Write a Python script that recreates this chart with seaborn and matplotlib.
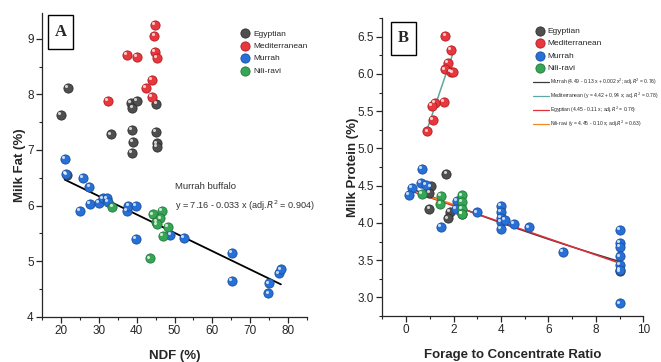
import numpy as np
import pandas as pd
import matplotlib
matplotlib.use("Agg")
import matplotlib.pyplot as plt
import matplotlib.transforms as mtransforms
from matplotlib.lines import Line2D
from matplotlib.patches import Rectangle
from matplotlib.ticker import AutoMinorLocator, MultipleLocator
import seaborn as sns

# ---- donnees panneau A : NDF (%) vs taux butyreux
egy_ndf = [21.9, 20.1, 21.5, 33.2, 38.4, 40.0, 38.9, 38.8, 39.1, 38.7, 45.2, 45.1, 45.3, 45.4]
egy_fat = [8.12, 7.63, 6.55, 7.28, 7.85, 7.89, 7.75, 7.36, 7.15, 6.95, 7.83, 7.33, 7.12, 7.06]
med_ndf = [44.8, 44.7, 37.4, 40.0, 44.8, 45.4, 44.0, 42.4, 44.0, 32.5]
med_fat = [9.25, 9.05, 8.71, 8.68, 8.76, 8.65, 8.26, 8.12, 7.95, 7.89]
mur_ndf = [21.1, 21.4, 25.9, 27.5, 25.0, 27.7, 30.1, 31.1, 32.2, 32.4, 37.5, 37.8, 39.9,
           39.8, 48.9, 52.4, 65.2, 65.1, 75.0, 74.8, 77.6, 78.1]
mur_fat = [6.84, 6.57, 6.50, 6.33, 5.91, 6.03, 6.05, 6.13, 6.13, 6.06, 5.91, 5.99, 5.99,
           5.40, 5.47, 5.42, 5.15, 4.65, 4.60, 4.42, 4.78, 4.85]
nil_ndf = [33.6, 44.2, 46.7, 45.2, 46.3, 45.3, 48.2, 47.0, 43.5]
nil_fat = [5.98, 5.84, 5.91, 5.71, 5.77, 5.66, 5.62, 5.45, 5.05]

# ---- donnees panneau B : rapport fourrage/concentre vs taux proteique
egy_fc = [1.70, 1.03, 0.98, 0.98, 1.86, 1.76, 2.34, 9.0]
egy_prot = [4.66, 4.49, 4.40, 4.19, 4.15, 4.06, 4.12, 3.35]
med_fc = [1.66, 1.90, 1.75, 1.65, 1.90, 1.98, 1.59, 1.20, 1.10, 1.13, 0.90]
med_prot = [6.51, 6.32, 6.15, 6.06, 6.03, 6.02, 5.62, 5.61, 5.57, 5.38, 5.23]
mur_fc = [0.68, 0.24, 0.13, 0.63, 0.84, 1.48, 2.14, 2.11, 2.98, 4.0, 4.0, 4.0, 4.0, 4.0,
          4.15, 4.55, 5.18, 6.62, 9, 9, 9, 9, 9, 9, 9]
mur_prot = [4.72, 4.47, 4.38, 4.54, 4.51, 3.95, 4.30, 4.19, 4.14, 4.23, 4.15, 4.07, 4.01, 3.92,
            4.04, 3.99, 3.94, 3.61, 3.91, 3.73, 3.68, 3.55, 3.44, 3.37, 2.92]
nil_fc = [0.68, 1.48, 1.45, 2.34, 2.34, 2.34, 2.34]
nil_prot = [4.39, 4.36, 4.26, 4.37, 4.28, 4.19, 4.12]

breeds = ["Egyptian", "Mediterranean", "Murrah", "Nili-ravi"]
couleurs = {"Egyptian": "#4f4f4f", "Mediterranean": "#e8373d",
            "Murrah": "#2670d8", "Nili-ravi": "#35a653"}
bords = {"Egyptian": "#2e2e2e", "Mediterranean": "#b01c22",
         "Murrah": "#1a4f9e", "Nili-ravi": "#20773a"}

# droites de regression (equations donnees sur la figure)
fit_murrah_A = (7.16, -0.033, 21, 78.1)
fits_B = [
    ("Murrah (4.49 - 0.13 x + 0.002 x$^2$; adj.$R^2$ = 0.76)", (4.49, -0.13, 0.002), (0.1, 9.0), "#3a3a3a"),
    ("Mediterranean (y = 4.42 + 0.94 x; adj.$R^2$ = 0.78)", (4.42, 0.94, 0.0), (0.92, 1.97), "#5fa8a0"),
    ("Egyptian (4.45 - 0.11 x; adj.$R^2$ = 0.76)", (4.45, -0.11, 0.0), (0.3, 9.0), "#e0303a"),
    ("Nili-ravi (y = 4.45 - 0.10 x; adj.$R^2$ = 0.63)", (4.45, -0.10, 0.0), (0.6, 2.4), "#f08a24"),
]


def make_df(xs, ys, xname, yname):
    rows = []
    for b, x, y in zip(breeds, xs, ys):
        rows.append(pd.DataFrame({xname: x, yname: y, "Breed": b}))
    return pd.concat(rows, ignore_index=True)


dfA = make_df([egy_ndf, med_ndf, mur_ndf, nil_ndf], [egy_fat, med_fat, mur_fat, nil_fat], "NDF", "Fat")
dfB = make_df([egy_fc, med_fc, mur_fc, nil_fc], [egy_prot, med_prot, mur_prot, nil_prot], "FC", "Prot")

sns.set_style("ticks")
narrow = ["Liberation Sans Narrow", "Liberation Sans", "DejaVu Sans"]
gras = ["Liberation Sans", "DejaVu Sans"]
plt.rcParams["font.family"] = narrow
plt.rcParams["axes.linewidth"] = 0.9

fig = plt.figure(figsize=(6.61, 3.62), dpi=100)
axA = fig.add_axes([0.0635, 0.125, 0.401, 0.84])
axB = fig.add_axes([0.5784, 0.127, 0.395, 0.823])


def balls(ax, df, x, y):
    # billes "3D" : disque colore + petit reflet blanc
    for b in breeds:
        sub = df[df["Breed"] == b]
        sns.scatterplot(data=sub, x=x, y=y, ax=ax, color=couleurs[b], s=44,
                        edgecolor=bords[b], linewidth=0.6, label=b, zorder=3)
    off = mtransforms.ScaledTranslation(-1.3 / 72, 1.3 / 72, fig.dpi_scale_trans)
    sns.scatterplot(data=df, x=x, y=y, ax=ax, color="white", s=5, linewidth=0,
                    alpha=0.75, legend=False, zorder=4, transform=ax.transData + off)


def style_axes(ax):
    sns.despine(ax=ax)
    ax.xaxis.set_minor_locator(AutoMinorLocator(2))
    ax.yaxis.set_minor_locator(AutoMinorLocator(2))
    ax.tick_params(which="major", direction="out", length=4, width=0.9, labelsize=8.5, pad=2)
    ax.tick_params(which="minor", direction="out", length=2.5, width=0.8)


def panel_letter(ax, lettre, x0, y0, w, h):
    ax.add_patch(Rectangle((x0, y0), w, h, transform=ax.transAxes, fc="white",
                           ec="black", lw=1, zorder=5, clip_on=False))
    ax.text(x0 + w / 2, y0 + h / 2, lettre, transform=ax.transAxes, fontsize=12,
            fontweight="bold", family=["Liberation Serif", "DejaVu Serif"],
            ha="center", va="center", zorder=6)


# ---------------- panneau A
balls(axA, dfA, "NDF", "Fat")
xx = np.linspace(fit_murrah_A[2], fit_murrah_A[3], 50)
axA.plot(xx, fit_murrah_A[0] + fit_murrah_A[1] * xx, color="black", lw=1.3, zorder=2)
axA.set_xlim(15, 85)
axA.set_ylim(4, 9.47)
axA.xaxis.set_major_locator(MultipleLocator(10))
axA.yaxis.set_major_locator(MultipleLocator(1))
style_axes(axA)
axA.set_xlabel("NDF (%)", fontsize=9.5, fontweight="bold", family=gras, labelpad=9)
axA.set_ylabel("Milk Fat (%)", fontsize=9.5, fontweight="bold", family=gras, labelpad=1)
axA.text(50.2, 6.34, "Murrah buffalo", fontsize=6.8, va="center", color="#333333")
axA.text(50.2, 5.99, "y = 7.16 - 0.033 x (adj.$R^2$ = 0.904)", fontsize=6.6, va="center", color="#333333")
panel_letter(axA, "A", 0.0226, 0.8806, 0.0943, 0.1118)
axA.legend(loc="upper left", bbox_to_anchor=(0.365, 0.918), bbox_transform=fig.transFigure,
           frameon=False, fontsize=6, handlelength=1, handletextpad=0.4,
           labelspacing=0.55, borderpad=0, borderaxespad=0)

# ---------------- panneau B
balls(axB, dfB, "FC", "Prot")
line_handles = []
for lab, (a, b1, b2), (x0, x1), col in fits_B:
    xx = np.linspace(x0, x1, 60)
    axB.plot(xx, a + b1 * xx + b2 * xx ** 2, color=col, lw=1.1, zorder=2)
    line_handles.append(Line2D([], [], color=col, lw=0.9, label=lab))
axB.set_xlim(-1, 10)
axB.set_ylim(2.75, 6.75)
axB.xaxis.set_major_locator(MultipleLocator(2))
axB.yaxis.set_major_locator(MultipleLocator(0.5))
axB.yaxis.set_major_formatter(plt.FormatStrFormatter("%.1f"))
style_axes(axB)
axB.set_xlabel("Forage to Concentrate Ratio", fontsize=9.5, fontweight="bold", family=gras, labelpad=9)
axB.set_ylabel("Milk Protein (%)", fontsize=9.5, fontweight="bold", family=gras, labelpad=-1)
panel_letter(axB, "B", 0.0333, 0.8758, 0.0958, 0.1118)
legB = axB.legend(loc="upper left", bbox_to_anchor=(0.811, 0.925), bbox_transform=fig.transFigure,
                  frameon=False, fontsize=6, handlelength=1, handletextpad=0.4,
                  labelspacing=0.55, borderpad=0, borderaxespad=0)
axB.add_artist(legB)
axB.legend(handles=line_handles, loc="upper left", bbox_to_anchor=(0.806, 0.787),
           bbox_transform=fig.transFigure, frameon=False, fontsize=3.6, handlelength=3.2,
           handletextpad=0.3, labelspacing=0.7, borderpad=0, borderaxespad=0)

fig.savefig("out.png", dpi=100)
